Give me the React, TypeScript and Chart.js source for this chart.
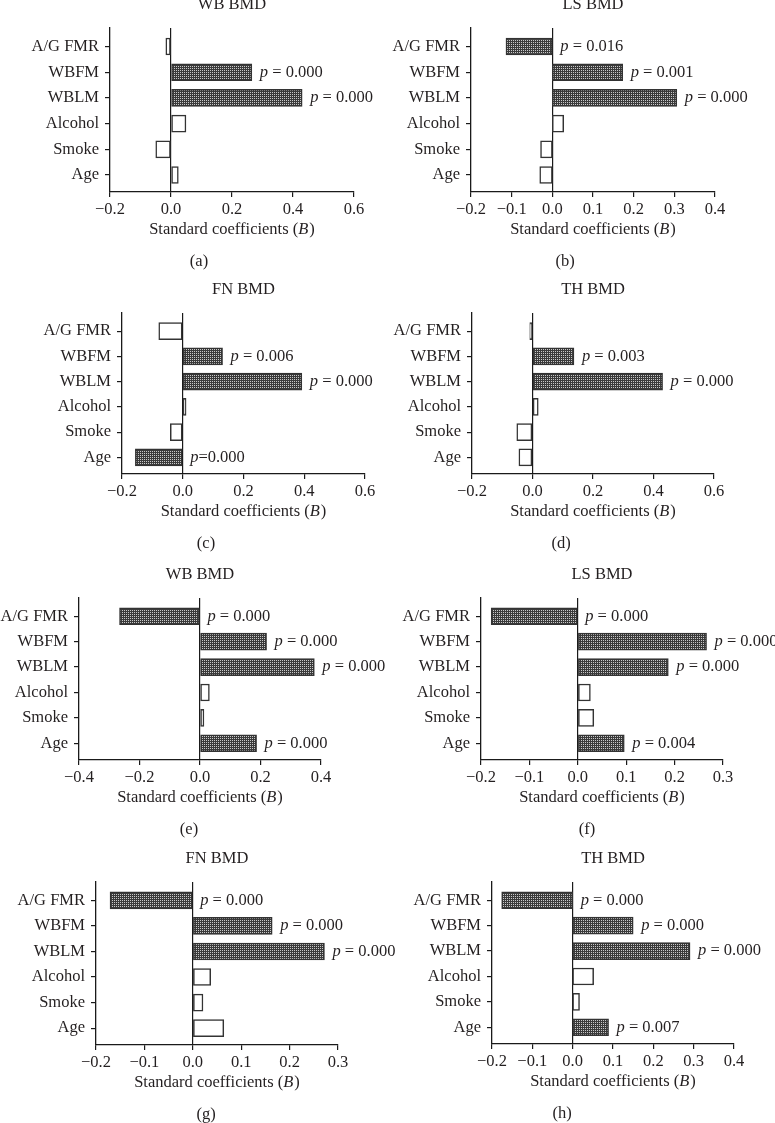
import React, { useEffect, useRef } from 'react';
import { Chart, registerables } from 'chart.js';

Chart.register(...registerables);

// ---------- data ----------
const categories = ['A/G FMR', 'WBFM', 'WBLM', 'Alcohol', 'Smoke', 'Age'];

const panelTitles = ['WB BMD', 'LS BMD', 'FN BMD', 'TH BMD', 'WB BMD', 'LS BMD', 'FN BMD', 'TH BMD'];
const panelLetters = ['(a)', '(b)', '(c)', '(d)', '(e)', '(f)', '(g)', '(h)'];
const xAxisTitle = 'Standard coefficients (';
const xAxisTitleItalic = 'B';
const xAxisTitleEnd = ')';

const coefA = [-0.017, 0.265, 0.430, 0.049, -0.050, 0.024];
const coefB = [-0.114, 0.173, 0.306, 0.028, -0.029, -0.031];
const coefC = [-0.079, 0.131, 0.392, 0.011, -0.041, -0.156];
const coefD = [-0.009, 0.137, 0.430, 0.019, -0.052, -0.045];
const coefE = [-0.266, 0.220, 0.378, 0.031, 0.013, 0.187];
const coefF = [-0.179, 0.266, 0.187, 0.026, 0.033, 0.096];
const coefG = [-0.171, 0.164, 0.272, 0.037, 0.021, 0.064];
const coefH = [-0.176, 0.150, 0.291, 0.052, 0.017, 0.089];

// text after the italic "p"
const pA = [null, ' = 0.000', ' = 0.000', null, null, null];
const pB = [' = 0.016', ' = 0.001', ' = 0.000', null, null, null];
const pC = [null, ' = 0.006', ' = 0.000', null, null, '=0.000'];
const pD = [null, ' = 0.003', ' = 0.000', null, null, null];
const pE = [' = 0.000', ' = 0.000', ' = 0.000', null, null, ' = 0.000'];
const pF = [' = 0.000', ' = 0.000', ' = 0.000', null, null, ' = 0.004'];
const pG = [' = 0.000', ' = 0.000', ' = 0.000', null, null, null];
const pH = [' = 0.000', ' = 0.000', ' = 0.000', null, null, ' = 0.007'];

const xAxisMin = [-0.2, -0.2, -0.2, -0.2, -0.4, -0.2, -0.2, -0.2];
const xAxisMax = [0.6, 0.4, 0.6, 0.6, 0.4, 0.3, 0.3, 0.4];
const xAxisStep = [0.2, 0.1, 0.2, 0.2, 0.2, 0.1, 0.1, 0.1];

const allCoefs = [coefA, coefB, coefC, coefD, coefE, coefF, coefG, coefH];
const allP = [pA, pB, pC, pD, pE, pF, pG, pH];

// ---------- layout (page coordinates) ----------
const layouts = [
  { plotLeft: 110, plotRight: 354, plotTop: 28, plotBottom: 192, labelX: 199, col: 0 },
  { plotLeft: 471, plotRight: 715, plotTop: 28, plotBottom: 192, labelX: 565, col: 1 },
  { plotLeft: 122, plotRight: 365, plotTop: 313, plotBottom: 474, labelX: 206, col: 0 },
  { plotLeft: 472, plotRight: 714, plotTop: 313, plotBottom: 474, labelX: 561, col: 1 },
  { plotLeft: 79, plotRight: 321, plotTop: 598, plotBottom: 760, labelX: 189, col: 0 },
  { plotLeft: 481, plotRight: 723, plotTop: 598, plotBottom: 760, labelX: 587, col: 1 },
  { plotLeft: 96, plotRight: 338, plotTop: 882, plotBottom: 1045, labelX: 206, col: 0 },
  { plotLeft: 492, plotRight: 734, plotTop: 882, plotBottom: 1044, labelX: 562, col: 1 },
];

const TOP_EXTRA = 30;
const BOTTOM_EXTRA = 85;
const FS = 16.5;
const FONT = '"Liberation Serif", "Times New Roman", serif';
const TEXT = '#231f20';
const LINE = '#1a1a1a';

function fmtTick(v: number) {
  if (Math.abs(v) < 1e-9) return '0.0';
  if (v < 0) return '\u2212' + Math.abs(v).toFixed(1);
  return v.toFixed(1);
}

function makePattern(): CanvasPattern | string {
  const c = document.createElement('canvas');
  c.width = 2;
  c.height = 2;
  const g = c.getContext('2d');
  if (!g) return '#666';
  g.fillStyle = '#3a3a3a';
  g.fillRect(0, 0, 2, 2);
  g.fillStyle = '#c8c8c8';
  g.fillRect(0, 0, 1, 1);
  const ctx = document.createElement('canvas').getContext('2d');
  return (ctx && ctx.createPattern(c, 'repeat')) || '#666';
}

function Panel({ idx }: { idx: number }) {
  const ref = useRef<HTMLCanvasElement | null>(null);
  const L = layouts[idx];
  const canvasLeft = L.col === 0 ? 0 : 385;
  const canvasWidth = L.col === 0 ? 420 : 390;
  const canvasTop = L.plotTop - TOP_EXTRA;
  const canvasHeight = L.plotBottom - L.plotTop + TOP_EXTRA + BOTTOM_EXTRA;

  useEffect(() => {
    const canvas = ref.current;
    if (!canvas) return;
    const pattern = makePattern();
    const coefs = allCoefs[idx];
    const ps = allP[idx];

    const textPlugin = {
      id: 'panelText',
      afterDraw(chart: any) {
        const ctx = chart.ctx;
        const area = chart.chartArea;
        const cx = (area.left + area.right) / 2;
        ctx.save();
        ctx.fillStyle = TEXT;
        ctx.textBaseline = 'middle';
        // title
        ctx.font = `${FS}px ${FONT}`;
        ctx.textAlign = 'center';
        ctx.fillText(panelTitles[idx], cx, area.top - 23);
        // x axis title with italic B
        ctx.textAlign = 'left';
        ctx.font = `${FS}px ${FONT}`;
        const w1 = ctx.measureText(xAxisTitle).width;
        const w3 = ctx.measureText(xAxisTitleEnd).width;
        ctx.font = `italic ${FS}px ${FONT}`;
        const w2 = ctx.measureText(xAxisTitleItalic).width + 1;
        const total = w1 + w2 + w3;
        const x0 = cx - total / 2;
        const ty = area.bottom + 38;
        ctx.font = `${FS}px ${FONT}`;
        ctx.fillText(xAxisTitle, x0, ty);
        ctx.font = `italic ${FS}px ${FONT}`;
        ctx.fillText(xAxisTitleItalic, x0 + w1, ty);
        ctx.font = `${FS}px ${FONT}`;
        ctx.fillText(xAxisTitleEnd, x0 + w1 + w2, ty);
        // panel letter
        ctx.textAlign = 'center';
        ctx.fillText(panelLetters[idx], L.labelX - canvasLeft, area.bottom + 70);
        // p labels
        const meta = chart.getDatasetMeta(0);
        ctx.textAlign = 'left';
        meta.data.forEach((bar: any, i: number) => {
          const txt = ps[i];
          if (!txt) return;
          const sx = Math.max(bar.x, bar.base) + 8;
          ctx.font = `italic ${FS}px ${FONT}`;
          ctx.fillText('p', sx, bar.y);
          const pw = ctx.measureText('p').width;
          ctx.font = `${FS}px ${FONT}`;
          ctx.fillText(txt, sx + pw, bar.y);
        });
        ctx.restore();
      },
    };

    const chart = new Chart(canvas, {
      type: 'bar',
      data: {
        datasets: [
          {
            data: coefs.map((v, i) => ({ x: v, y: i })),
            backgroundColor: coefs.map((_, i) => (ps[i] ? pattern : '#ffffff')) as any,
            borderColor: '#333333',
            borderWidth: 1.5,
            borderSkipped: false,
            barThickness: 17,
          },
        ],
      },
      options: {
        indexAxis: 'y',
        responsive: false,
        animation: false,
        devicePixelRatio: 1,
        events: [],
        layout: {
          padding: {
            top: TOP_EXTRA,
            left: 0,
            bottom: 0,
            right: canvasLeft + canvasWidth - L.plotRight,
          },
        },
        plugins: {
          legend: { display: false },
          tooltip: { enabled: false },
          title: { display: false },
        },
        scales: {
          x: {
            type: 'linear',
            position: 'bottom',
            offset: false,
            min: xAxisMin[idx],
            max: xAxisMax[idx],
            afterFit: (s: any) => {
              s.height = BOTTOM_EXTRA;
            },
            ticks: {
              stepSize: xAxisStep[idx],
              callback: (v: any) => fmtTick(Number(v)),
              font: { family: FONT, size: FS },
              color: TEXT,
              padding: 3,
              maxRotation: 0,
              autoSkip: false,
            },
            grid: {
              offset: false,
              drawOnChartArea: true,
              drawTicks: true,
              tickLength: 5,
              tickColor: LINE,
              lineWidth: 1.2,
              color: (c: any) => (c.tick && Math.abs(c.tick.value) < 1e-9 ? LINE : 'rgba(0,0,0,0)'),
            },
            border: { display: true, color: LINE, width: 1.3 },
          },
          y: {
            type: 'linear',
            reverse: true,
            offset: false,
            min: -0.72,
            max: 5.66,
            afterFit: (s: any) => {
              s.width = L.plotLeft - canvasLeft;
            },
            afterBuildTicks: (s: any) => {
              s.ticks = categories.map((_, i) => ({ value: i }));
            },
            ticks: {
              autoSkip: false,
              callback: (v: any) => categories[Math.round(Number(v))],
              font: { family: FONT, size: FS },
              color: TEXT,
              padding: 6,
            },
            grid: {
              offset: false,
              drawOnChartArea: false,
              drawTicks: true,
              tickLength: 5,
              tickColor: LINE,
              lineWidth: 1.2,
            },
            border: { display: true, color: LINE, width: 1.3 },
          },
        },
      },
      plugins: [textPlugin],
    } as any);

    return () => chart.destroy();
  }, [idx]);

  return (
    <canvas
      ref={ref}
      width={canvasWidth}
      height={canvasHeight}
      style={{
        position: 'absolute',
        left: canvasLeft,
        top: canvasTop,
        width: canvasWidth,
        height: canvasHeight,
      }}
    />
  );
}

export default function App() {
  return (
    <div
      style={{
        position: 'absolute',
        left: 0,
        top: 0,
        width: 775,
        height: 1123,
        overflow: 'hidden',
        background: '#ffffff',
      }}
    >
      {layouts.map((_, i) => (
        <Panel key={i} idx={i} />
      ))}
    </div>
  );
}
